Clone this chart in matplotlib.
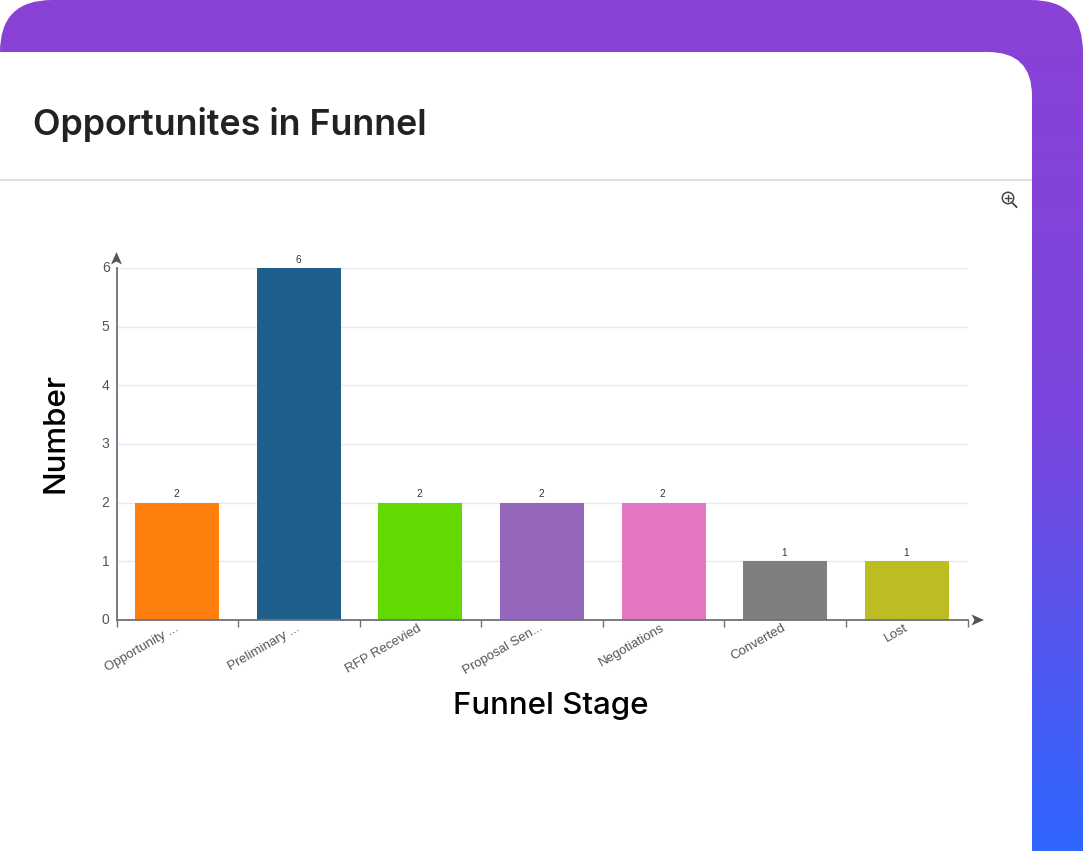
import numpy as np
import matplotlib
matplotlib.use("Agg")
import matplotlib.pyplot as plt
from matplotlib.patches import FancyBboxPatch, Circle, Polygon
from matplotlib.colors import LinearSegmentedColormap
from matplotlib.transforms import ScaledTranslation

stages = ["Opportunity ...", "Preliminary ...", "RFP Recevied", "Proposal Sen...",
          "Negotiations", "Converted", "Lost"]
counts = [2, 6, 2, 2, 2, 1, 1]
bar_colors = ["#FF7F0E", "#1F5F8B", "#62D900", "#9467BD", "#E377C2", "#7F7F7F", "#BCBD22"]
y_ticks = [0, 1, 2, 3, 4, 5, 6]

W, H = 1083, 851
fig = plt.figure(figsize=(W / 100, H / 100), dpi=100, facecolor="white")

# page frame, drawn in pixel coords
bg = fig.add_axes([0, 0, 1, 1])
bg.set_xlim(0, W)
bg.set_ylim(H, 0)
bg.axis("off")

grad = np.linspace(0, 1, 256).reshape(-1, 1)
cmap = LinearSegmentedColormap.from_list("frame", ["#8B41D6", "#7A47DE", "#2E66FF"])
im = bg.imshow(grad, cmap=cmap, extent=(0, W, H, 0), aspect="auto", zorder=1)
outer = FancyBboxPatch((0, 0), W, H + 80, boxstyle="round,pad=0,rounding_size=52",
                       fc="none", ec="none", transform=bg.transData)
bg.add_patch(outer)
im.set_clip_path(outer)
bg.set_xlim(0, W)
bg.set_ylim(H, 0)

bg.add_patch(FancyBboxPatch((-60, 52), 1092, H + 60, boxstyle="round,pad=0,rounding_size=44",
                            fc="white", ec="none", zorder=2))
bg.plot([0, 1032], [179.5, 179.5], color="#E2DEDF", lw=1.5, zorder=3, solid_capstyle="butt")
bg.text(33, 125, "Opportunites in Funnel", family="Inter", weight="semibold", fontsize=25.8,
        color="#222222", va="center", ha="left", zorder=3)

# zoom icon
bg.add_patch(Circle((1008, 198), 5.7, fc="none", ec="#444444", lw=1.1, zorder=3))
bg.plot([1012, 1016.5], [202.5, 207], color="#444444", lw=1.3, zorder=3)
bg.plot([1005, 1011], [198, 198], color="#444444", lw=1, zorder=3)
bg.plot([1008, 1008], [195, 201], color="#444444", lw=1, zorder=3)

# axis arrow heads
bg.add_patch(Polygon([(111, 264.5), (116.5, 252), (122, 264.5), (116.5, 261.5)],
                     fc="#555555", ec="none", zorder=5))
bg.add_patch(Polygon([(971.5, 614.5), (984, 620), (971.5, 625.5), (974.5, 620)],
                     fc="#555555", ec="none", zorder=5))

ax = fig.add_axes([116.5 / W, (H - 620) / H, 851 / W, 352 / H])
ax.patch.set_alpha(0)
x = np.arange(len(stages))
bars = ax.bar(x, counts, width=84 / 121.57, color=bar_colors, zorder=2)
for xi, c in zip(x, counts):
    ax.annotate(str(c), (xi, c), xytext=(-0.7, 2.5), textcoords="offset points", ha="center",
                va="bottom", fontsize=7.2, family="Liberation Sans", color="#333333")

ax.set_xlim(-0.5, len(stages) - 0.5)
ax.set_ylim(0, 6)
ax.set_yticks(y_ticks)
ax.set_xticks(np.arange(len(stages) + 1) - 0.5)
ax.set_xticklabels([])
ax.set_xticks(x, minor=True)
ax.set_xticklabels(stages, minor=True, rotation=30, ha="right", rotation_mode="anchor",
                   fontsize=9.5, family="Liberation Sans", color="#555555")
ax.tick_params(axis="x", which="major", length=5, width=1, color="#6E7079")
ax.tick_params(axis="x", which="minor", length=0, pad=1.5)
ax.tick_params(axis="y", length=0, pad=5, labelsize=10, labelcolor="#555555")
for lab in ax.get_yticklabels():
    lab.set_family("Liberation Sans")
    lab.set_transform(lab.get_transform() + ScaledTranslation(0, 0.012, fig.dpi_scale_trans))
for lab in ax.get_xticklabels(minor=True):
    lab.set_transform(lab.get_transform() + ScaledTranslation(-0.03, 0, fig.dpi_scale_trans))

ax.grid(axis="y", color="#E6E8F4", lw=1, zorder=0)
ax.set_axisbelow(True)
for side in ["top", "right"]:
    ax.spines[side].set_visible(False)
for side in ["left", "bottom"]:
    ax.spines[side].set_color("#6E7079")
    ax.spines[side].set_linewidth(1.3)

bg.text(551, 706, "Funnel Stage", family="Inter", weight="medium", fontsize=22.5,
        color="black", ha="center", va="center", zorder=3)
bg.text(55.5, 433, "Number", family="Inter", weight="medium", fontsize=22.5, rotation=90,
        color="black", ha="center", va="center", zorder=3)

fig.savefig("out.png", dpi=100)
plt.close()
